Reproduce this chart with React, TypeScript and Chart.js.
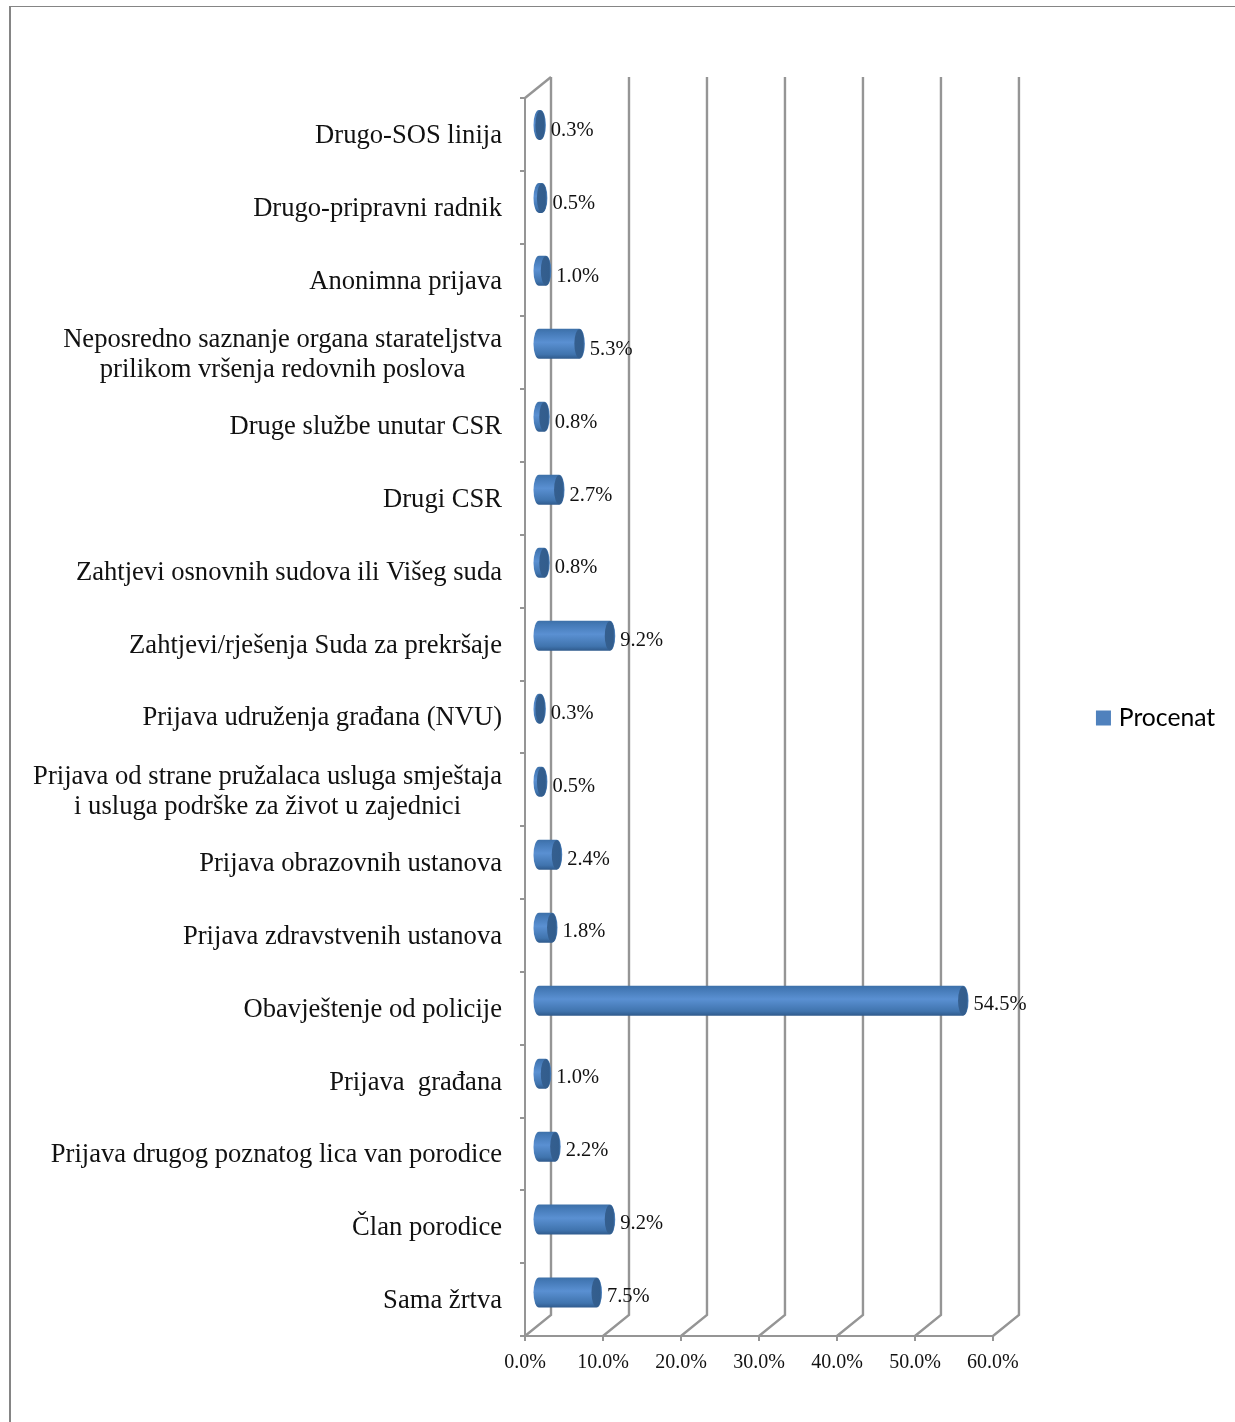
import React, { useEffect, useRef } from "react";
import { Chart, registerables } from "chart.js";

Chart.register(...registerables);

const categories: (string | string[])[] = [
  "Drugo-SOS linija",
  "Drugo-pripravni radnik",
  "Anonimna prijava",
  ["Neposredno saznanje organa starateljstva", "prilikom vršenja redovnih poslova"],
  "Druge službe unutar CSR",
  "Drugi CSR",
  "Zahtjevi osnovnih sudova ili Višeg suda",
  "Zahtjevi/rješenja Suda za prekršaje",
  "Prijava udruženja građana (NVU)",
  ["Prijava od strane pružalaca usluga smještaja", "i usluga podrške za život u zajednici"],
  "Prijava obrazovnih ustanova",
  "Prijava zdravstvenih ustanova",
  "Obavještenje od policije",
  "Prijava  građana",
  "Prijava drugog poznatog lica van porodice",
  "Član porodice",
  "Sama žrtva",
];
const seriesName = "Procenat";
const values = [0.3, 0.5, 1.0, 5.3, 0.8, 2.7, 0.8, 9.2, 0.3, 0.5, 2.4, 1.8, 54.5, 1.0, 2.2, 9.2, 7.5];

const GREY = "#959595";
const SERIF = "'Liberation Serif', 'Times New Roman', serif";
const DEPTH_X = 26;
const DEPTH_Y = 21;
const LABEL_SIZE = 26.6;

const wall = {
  id: "wall",
  // Tick labels are clipped to the scale's box, so the box runs to the canvas bottom.
  afterLayout(chart: any) {
    chart.scales.x.bottom = chart.height;
  },
  beforeDatasetsDraw(chart: any) {
    const { ctx, chartArea, scales } = chart;
    ctx.save();
    ctx.strokeStyle = GREY;
    ctx.lineWidth = 2.4;
    ctx.lineCap = "butt";
    for (const v of scales.x.ticks.map((t: any) => t.value)) {
      const x = scales.x.getPixelForValue(v);
      ctx.beginPath();
      ctx.moveTo(x, chartArea.bottom);
      ctx.lineTo(x + DEPTH_X, chartArea.bottom - DEPTH_Y);
      ctx.lineTo(x + DEPTH_X, chartArea.top - DEPTH_Y);
      ctx.stroke();
    }
    ctx.beginPath();
    ctx.moveTo(chartArea.left, chartArea.top);
    ctx.lineTo(chartArea.left + DEPTH_X, chartArea.top - DEPTH_Y);
    ctx.stroke();
    ctx.restore();
  },
};

const cylinders = {
  id: "cylinders",
  beforeDatasetDraw(chart: any) {
    const { ctx } = chart;
    const meta = chart.getDatasetMeta(0);
    const rx = 5.5;
    const n = meta.data.length;
    ctx.save();
    meta.data.forEach((bar: any, i: number) => {
      const cy = bar.y - 9.5 + (2.5 * i) / (n - 1);
      const h = 30;
      const x0 = bar.base + DEPTH_X / 2;
      const x1 = bar.x + DEPTH_X / 2;
      const top = cy - h / 2;
      const g = ctx.createLinearGradient(0, top, 0, top + h);
      g.addColorStop(0, "#3d70a8");
      g.addColorStop(0.12, "#4479b6");
      g.addColorStop(0.45, "#5a90d2");
      g.addColorStop(0.85, "#4074ae");
      g.addColorStop(1, "#2f5a8c");
      ctx.fillStyle = g;
      ctx.beginPath();
      ctx.ellipse(x0, cy, rx, h / 2, 0, Math.PI / 2, (3 * Math.PI) / 2);
      ctx.lineTo(x1, top);
      ctx.ellipse(x1, cy, rx, h / 2, 0, -Math.PI / 2, Math.PI / 2);
      ctx.closePath();
      ctx.fill();
      const c = ctx.createLinearGradient(x1 - rx, 0, x1 + rx, 0);
      c.addColorStop(0, "#355f8f");
      c.addColorStop(0.8, "#325d8d");
      c.addColorStop(1, "#4274ab");
      ctx.fillStyle = c;
      ctx.beginPath();
      ctx.ellipse(x1, cy, rx - 0.5, h / 2 - 0.5, 0, 0, Math.PI * 2);
      ctx.fill();
    });
    ctx.restore();
    return false;
  },
};

const valueLabels = {
  id: "valueLabels",
  afterDatasetsDraw(chart: any) {
    const { ctx } = chart;
    const meta = chart.getDatasetMeta(0);
    ctx.save();
    ctx.font = `20.5px ${SERIF}`;
    ctx.fillStyle = "#111";
    ctx.textAlign = "left";
    ctx.textBaseline = "middle";
    meta.data.forEach((bar: any, i: number) => {
      ctx.fillText(values[i].toFixed(1) + "%", bar.x + DEPTH_X / 2 + 10.5, bar.y - 3.4);
    });
    ctx.restore();
  },
};

// Two-line category labels are centred on their own block, as in the reference.
const tuneLabels = {
  id: "tuneLabels",
  beforeDraw(chart: any) {
    const { ctx, scales } = chart;
    const y = scales.y;
    ctx.save();
    ctx.font = `${LABEL_SIZE}px ${SERIF}`;
    y.getLabelItems().forEach((item: any, i: number) => {
      const multi = Array.isArray(item.label);
      item.options.translation[1] = y.getPixelForTick(i) + (multi ? 2.5 : 1.5);
      if (multi) {
        const w = Math.max(...item.label.map((l: string) => ctx.measureText(l).width));
        item.options.textAlign = "center";
        item.options.translation[0] = y.right - 23 - w / 2;
      }
    });
    ctx.restore();
  },
};

export default function App() {
  const ref = useRef<HTMLCanvasElement>(null);
  useEffect(() => {
    const chart = new Chart(ref.current as HTMLCanvasElement, {
      type: "bar",
      data: {
        labels: categories as any,
        datasets: [{ label: seriesName, data: values, backgroundColor: "#4f81bd", yAxisID: "y", xAxisID: "x" }],
      },
      plugins: [wall, cylinders, valueLabels, tuneLabels],
      options: {
        indexAxis: "y",
        animation: false,
        responsive: false,
        layout: { padding: { top: 98, bottom: 84, left: 0, right: 9.8 } },
        plugins: {
          tooltip: { enabled: false },
          legend: {
            position: "right",
            labels: {
              boxWidth: 6,
              boxHeight: 6,
              padding: 10,
              color: "#111",
              font: { family: "Lato", size: 24.7 },
              generateLabels: () => [
                {
                  text: seriesName,
                  fillStyle: "#4f81bd",
                  strokeStyle: "#4f81bd",
                  lineWidth: 9,
                  hidden: false,
                  datasetIndex: 0,
                },
              ],
            },
          },
        },
        scales: {
          x: {
            type: "linear",
            position: "bottom",
            min: 0,
            max: 60,
            afterFit(s: any) {
              s.height = 2;
            },
            grid: { drawOnChartArea: false, drawTicks: true, tickLength: 5, color: GREY, lineWidth: 2 },
            border: { display: true, color: GREY, width: 2 },
            ticks: {
              stepSize: 10,
              padding: 10,
              maxRotation: 0,
              color: "#111",
              font: { family: SERIF, size: 20 },
              callback: (v: any) => Number(v).toFixed(1) + "%",
            },
          },
          y: {
            type: "category",
            position: "left",
            offset: true,
            afterFit(s: any) {
              s.width = 525;
            },
            grid: { drawOnChartArea: false, drawTicks: true, tickLength: 5, offset: true, color: GREY, lineWidth: 2 },
            border: { display: true, color: GREY, width: 2 },
            ticks: {
              padding: 18,
              autoSkip: false,
              color: "#111",
              font: { family: SERIF, size: LABEL_SIZE, lineHeight: 1.13 },
            },
          },
          spacer: {
            type: "linear",
            axis: "y",
            position: "right",
            display: true,
            afterFit(s: any) {
              s.width = 97.5;
            },
            grid: { display: false, drawTicks: false },
            border: { display: false },
            ticks: { display: false },
          },
        },
      } as any,
    });
    return () => chart.destroy();
  }, []);
  return (
    <div style={{ position: "absolute", left: 0, top: 0, width: 1235, height: 1422, overflow: "hidden", background: "#fff" }}>
      <canvas ref={ref} width={1235} height={1422} style={{ position: "absolute", left: 0, top: 0, display: "block" }} />
      <div style={{ position: "absolute", left: 9, top: 6, right: 0, bottom: 0, borderLeft: "2px solid #858585", borderTop: "1.5px solid #858585", pointerEvents: "none" }} />
    </div>
  );
}
